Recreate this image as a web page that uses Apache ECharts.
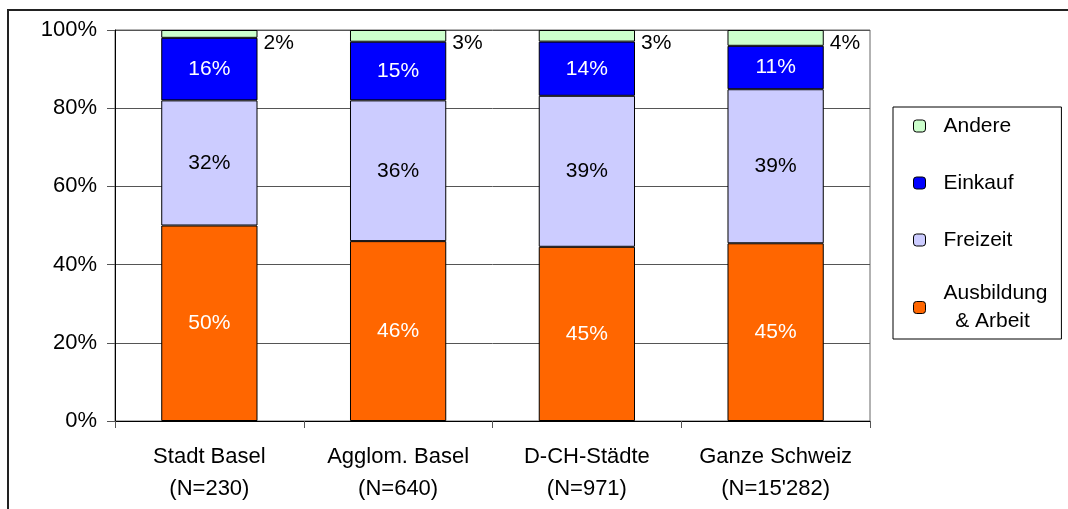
<!DOCTYPE html>
<html>
<head>
<meta charset="utf-8">
<script src="https://cdn.jsdelivr.net/npm/echarts@6/dist/echarts.min.js"></script>
<style>
  html, body { margin: 0; padding: 0; background: #fff; }
  #main { width: 1068px; height: 509px; }
</style>
</head>
<body>
<div id="main"></div>
<script>
// Wegzwecke nach Gebiet (Anteile in %)
var categories = ['Stadt Basel\n(N=230)', 'Agglom. Basel\n(N=640)', 'D-CH-Städte\n(N=971)', 'Ganze Schweiz\n(N=15\'282)'];
var ausbildung = [50, 46, 45, 45];
var freizeit   = [32, 36, 39, 39];
var einkauf    = [16, 15, 14, 11];
var andere     = [2, 3, 3, 4];
var yTicks = [0, 20, 40, 60, 80, 100];

var FONT = '"Liberation Sans", Arial, sans-serif';

// Excel 100%-Stapel: jede Säule auf 100 normiert
function share(arr, i) {
    var total = ausbildung[i] + freizeit[i] + einkauf[i] + andere[i];
    return arr[i] / total * 100;
}
function toData(arr) {
    return arr.map(function (v, i) { return { value: share(arr, i), raw: v }; });
}

var chart = echarts.init(document.getElementById('main'));

function barSeries(name, arr, color, labelColor) {
    return {
        name: name,
        type: 'bar',
        stack: 'total',
        barWidth: '51%',
        data: toData(arr),
        itemStyle: { color: color, borderColor: '#000', borderWidth: 1 },
        label: {
            show: true,
            position: 'inside',
            color: labelColor,
            fontFamily: FONT,
            fontSize: 21,
            formatter: function (p) { return p.data.raw + '%'; }
        }
    };
}

var andereSeries = barSeries('Andere', andere, '#CCFFCC', '#000');
andereSeries.label.position = ['100%', 0];
andereSeries.label.align = 'left';
andereSeries.label.verticalAlign = 'top';
andereSeries.label.offset = [6, 3];

option = {
    backgroundColor: '#fff',
    animation: false,
    textStyle: { fontFamily: FONT },
    graphic: [{
        type: 'rect',
        shape: { x: 8, y: 10, width: 1200, height: 600 },
        style: { fill: null, stroke: '#222', lineWidth: 2 },
        silent: true
    }],
    grid: {
        left: 115, right: 198, top: 30, bottom: 88,
        show: true, borderColor: '#666', borderWidth: 1
    },
    legend: {
        orient: 'vertical',
        left: 893,
        top: 107,
        padding: [5, 14, 7, 20],
        borderColor: '#000',
        borderWidth: 1,
        itemWidth: 12,
        itemHeight: 12,
        itemGap: 29,
        data: [
            'Andere', 'Einkauf', 'Freizeit',
            // Symbol auf Höhe der ersten Zeile
            { name: 'Ausbildung & Arbeit', textStyle: { verticalAlign: 'top', padding: [-28, 0, 0, 13] } }
        ],
        formatter: function (name) {
            return name === 'Ausbildung & Arbeit' ? 'Ausbildung\n  & Arbeit' : name;
        },
        itemStyle: { borderColor: '#000', borderWidth: 1 },
        textStyle: {
            fontFamily: FONT, fontSize: 21, color: '#000',
            lineHeight: 28, padding: [0, 0, 0, 13]
        }
    },
    xAxis: {
        type: 'category',
        data: categories,
        axisLine: { lineStyle: { color: '#000', width: 1 } },
        axisTick: { show: true, length: 7, lineStyle: { color: '#555' } },
        axisLabel: {
            color: '#000', fontFamily: FONT, fontSize: 22,
            lineHeight: 32, margin: 20, interval: 0
        }
    },
    yAxis: {
        type: 'value',
        min: 0,
        max: 100,
        interval: 20,
        axisLine: { show: true, lineStyle: { color: '#000', width: 1 } },
        axisTick: { show: true, length: 8, lineStyle: { color: '#555' } },
        splitLine: { lineStyle: { color: '#555', width: 1 } },
        axisLabel: {
            color: '#000', fontFamily: FONT, fontSize: 22, margin: 18,
            formatter: function (v) { return yTicks.indexOf(v) >= 0 ? v + '%' : ''; }
        }
    },
    series: [
        barSeries('Ausbildung & Arbeit', ausbildung, '#FF6600', '#fff'),
        barSeries('Freizeit', freizeit, '#CCCCFF', '#000'),
        barSeries('Einkauf', einkauf, '#0000FF', '#fff'),
        andereSeries
    ]
};

chart.setOption(option);
</script>
</body>
</html>
